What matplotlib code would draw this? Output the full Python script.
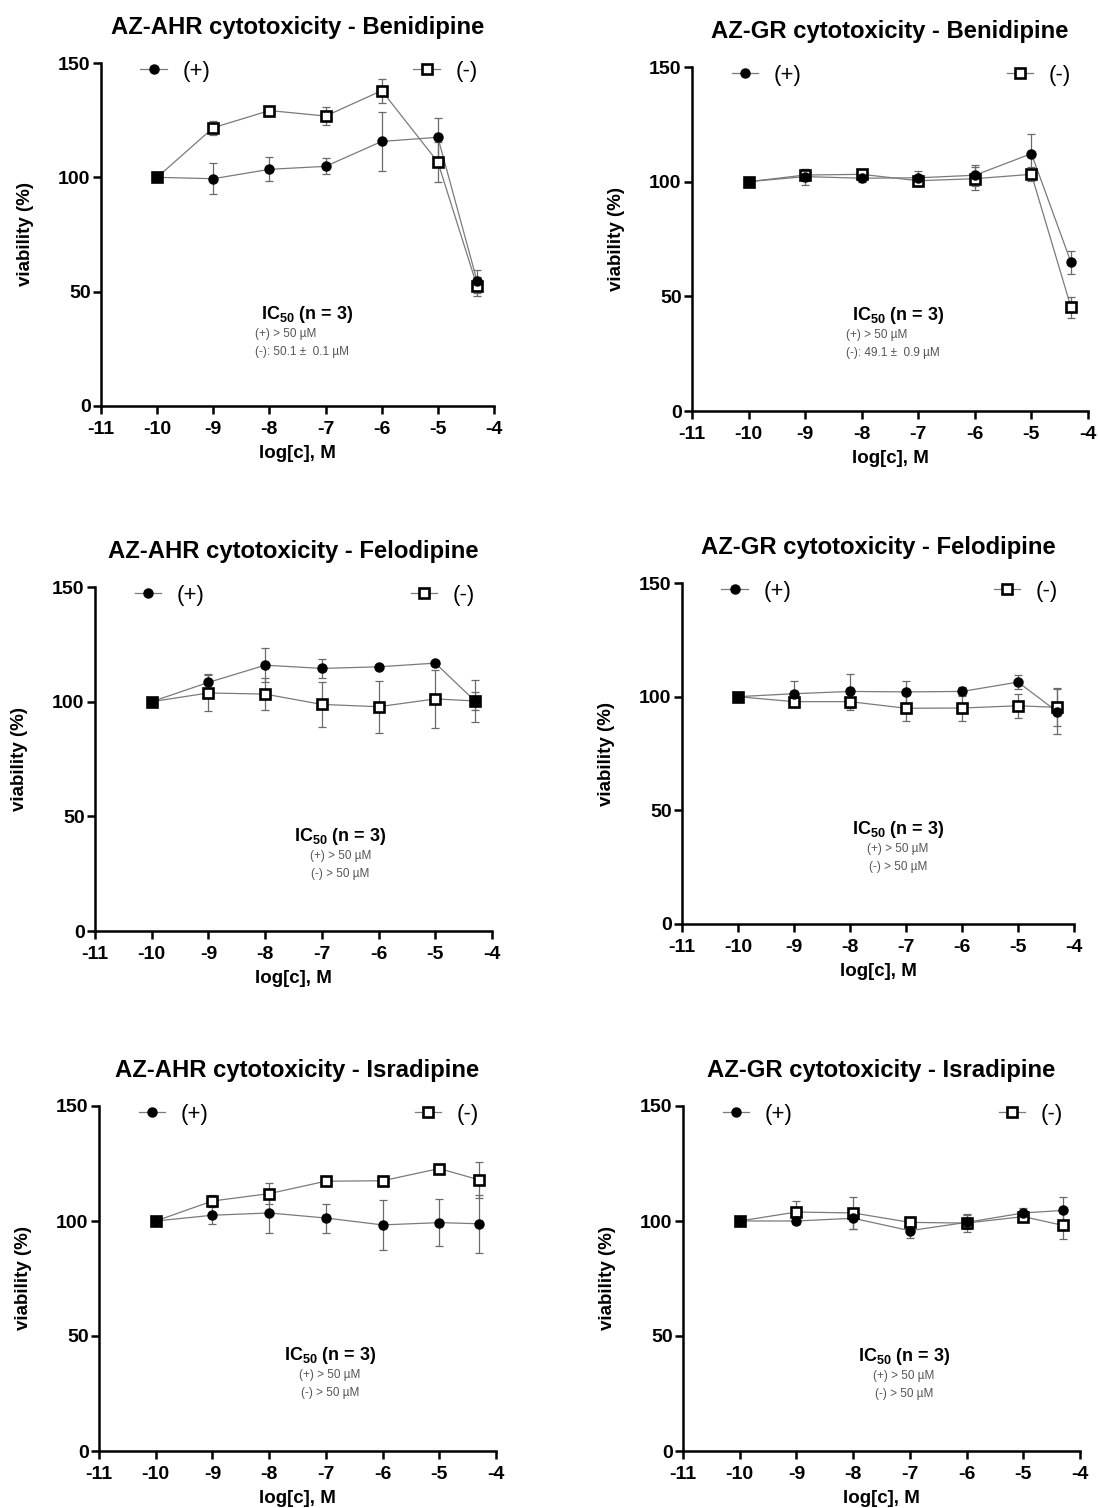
import matplotlib
matplotlib.use("Agg")
import matplotlib.pyplot as plt
from matplotlib.lines import Line2D

plt.rcParams['font.family'] = ['Liberation Sans', 'DejaVu Sans']
plt.rcParams['mathtext.fontset'] = 'custom'
plt.rcParams['mathtext.rm'] = 'Liberation Sans'
plt.rcParams['mathtext.bf'] = 'Liberation Sans:bold'
plt.rcParams['axes.unicode_minus'] = False

# ---------------- data ----------------
log_conc = [-10, -9, -8, -7, -6, -5, -4.3]
x_ticks = [-11, -10, -9, -8, -7, -6, -5, -4]
y_ticks = [0, 50, 100, 150]

titles = ["AZ-AHR cytotoxicity - Benidipine", "AZ-GR cytotoxicity - Benidipine",
          "AZ-AHR cytotoxicity - Felodipine", "AZ-GR cytotoxicity - Felodipine",
          "AZ-AHR cytotoxicity - Isradipine", "AZ-GR cytotoxicity - Isradipine"]

# (+) / (-) series means and SD
ahr_beni_plus = [100, 99.4, 103.5, 104.8, 115.7, 117.5, 54.5]
ahr_beni_plus_err = [0, 6.7, 5.3, 3.5, 12.8, 8.5, 5.0]
ahr_beni_minus = [100, 121.7, 129.2, 126.8, 137.9, 106.7, 52.3]
ahr_beni_minus_err = [0, 3.0, 1.5, 3.8, 5.2, 8.9, 4.0]

gr_beni_plus = [100, 102.2, 101.5, 101.7, 102.8, 112.2, 64.8]
gr_beni_plus_err = [0, 3.5, 1.5, 3.0, 4.5, 8.8, 5.0]
gr_beni_minus = [100, 102.9, 103.2, 100.4, 101.3, 103.2, 45.2]
gr_beni_minus_err = [0, 2.5, 1.0, 2.5, 5.0, 3.0, 4.5]

ahr_felo_plus = [100, 108.4, 115.9, 114.5, 115.2, 116.8, 100.3]
ahr_felo_plus_err = [0, 3.8, 7.4, 4.2, 0.5, 1.0, 4.0]
ahr_felo_minus = [100, 103.8, 103.3, 98.8, 97.8, 101.2, 100.3]
ahr_felo_minus_err = [0, 7.8, 7.0, 9.8, 11.4, 12.8, 9.0]

gr_felo_plus = [100, 101.3, 102.3, 102.1, 102.3, 106.4, 93.4]
gr_felo_plus_err = [0, 5.7, 7.5, 4.9, 2.0, 3.0, 10.0]
gr_felo_minus = [100, 97.8, 97.8, 94.9, 95.0, 96.0, 95.3]
gr_felo_minus_err = [0, 2.0, 3.5, 5.8, 5.6, 5.3, 8.4]

ahr_isra_plus = [100, 102.5, 103.5, 101.3, 98.3, 99.3, 98.8]
ahr_isra_plus_err = [0, 4.0, 8.8, 6.3, 11.0, 10.3, 12.5]
ahr_isra_minus = [100, 108.7, 111.9, 117.3, 117.5, 122.8, 117.9]
ahr_isra_minus_err = [0, 2.6, 4.5, 0.8, 0.8, 1.0, 7.8]

gr_isra_plus = [100, 100.0, 101.2, 95.8, 99.4, 103.5, 104.6]
gr_isra_plus_err = [0, 1.5, 4.5, 3.2, 3.0, 2.0, 5.9]
gr_isra_minus = [100, 103.9, 103.5, 99.4, 99.1, 101.9, 98.1]
gr_isra_minus_err = [0, 4.9, 7.0, 1.0, 3.9, 1.5, 6.0]

ic50_plus_text = ["(+) > 50 µM", "(+) > 50 µM", "(+) > 50 µM",
                  "(+) > 50 µM", "(+) > 50 µM", "(+) > 50 µM"]
ic50_minus_text = ["(-): 50.1 ±  0.1 µM", "(-): 49.1 ±  0.9 µM", "(-) > 50 µM",
                   "(-) > 50 µM", "(-) > 50 µM", "(-) > 50 µM"]

series = [
    (ahr_beni_plus, ahr_beni_plus_err, ahr_beni_minus, ahr_beni_minus_err),
    (gr_beni_plus, gr_beni_plus_err, gr_beni_minus, gr_beni_minus_err),
    (ahr_felo_plus, ahr_felo_plus_err, ahr_felo_minus, ahr_felo_minus_err),
    (gr_felo_plus, gr_felo_plus_err, gr_felo_minus, gr_felo_minus_err),
    (ahr_isra_plus, ahr_isra_plus_err, ahr_isra_minus, ahr_isra_minus_err),
    (gr_isra_plus, gr_isra_plus_err, gr_isra_minus, gr_isra_minus_err),
]

# ---------------- layout (pixels: left, right, top, bottom) ----------------
W, H = 1098, 1508
boxes = [(101, 494, 63, 406), (692, 1088, 67, 411),
         (95, 492, 587, 931), (682, 1074, 583, 924),
         (99, 496, 1106, 1451), (683, 1080, 1106, 1451)]
# IC50 annotation: (x center, y of header, left-aligned?, x left)
ann = [(-7.33, 40.0, True, -8.25), (-7.35, 41.7, True, -8.28),
       (-6.67, 41.3, False, None), (-7.14, 41.5, False, None),
       (-6.93, 41.7, False, None), (-7.1, 41.3, False, None)]

fig = plt.figure(figsize=(W / 100, H / 100), dpi=100)

line_col = '#7a7a7a'
err_col = '#6a6a6a'
sub_col = '#555555'

for i in range(6):
    l, r, t, b = boxes[i]
    ax = fig.add_axes([l / W, 1 - b / H, (r - l) / W, (b - t) / H])
    yp, ep, ym, em = series[i]

    ax.errorbar(log_conc, ym, yerr=em, fmt='none', ecolor=err_col,
                elinewidth=0.9, capsize=3, capthick=0.9, zorder=2)
    ax.errorbar(log_conc, yp, yerr=ep, fmt='none', ecolor=err_col,
                elinewidth=0.9, capsize=3, capthick=0.9, zorder=2)
    ax.plot(log_conc, ym, '-', color=line_col, lw=0.9, zorder=3)
    ax.plot(log_conc, yp, '-', color=line_col, lw=0.9, zorder=3)
    ax.plot(log_conc, ym, 's', ms=7.5, mfc='white', mec='black', mew=1.9,
            ls='none', zorder=4)
    ax.plot(log_conc, yp, 'o', ms=6.5, mfc='black', mec='black',
            ls='none', zorder=5)

    ax.set_xlim(-11, -4)
    ax.set_ylim(0, 150)
    ax.set_xticks(x_ticks)
    ax.set_yticks(y_ticks)
    ax.spines['top'].set_visible(False)
    ax.spines['right'].set_visible(False)
    for s in ('left', 'bottom'):
        ax.spines[s].set_linewidth(1.8)
    ax.tick_params(direction='out', length=5.5, width=1.8, labelsize=14)
    ax.tick_params(axis='x', pad=5)
    ax.tick_params(axis='y', pad=2)
    for lab in ax.get_xticklabels() + ax.get_yticklabels():
        lab.set_fontweight('bold')
    for art in ax.lines:
        art.set_clip_on(False)

    ax.set_title(titles[i], fontsize=17.2, fontweight='bold', pad=21)
    ax.set_xlabel('log[c], M', fontsize=13.5, fontweight='bold', labelpad=5)
    ax.set_ylabel('viability (%)', fontsize=13.5, fontweight='bold', labelpad=17)

    # legends
    hp = Line2D([], [], color=line_col, lw=0.9, marker='o', ms=6.5,
                mfc='black', mec='black')
    hm = Line2D([], [], color=line_col, lw=0.9, marker='s', ms=7.5,
                mfc='white', mec='black', mew=1.9)
    leg1 = ax.legend([hp], ['(+)'], loc='center left', frameon=False,
                     bbox_to_anchor=(0.10, 0.975), borderaxespad=0, borderpad=0,
                     handlelength=1.2, handletextpad=0.7, fontsize=16,
                     numpoints=1)
    ax.add_artist(leg1)
    ax.legend([hm], ['(-)'], loc='center left', frameon=False,
              bbox_to_anchor=(0.795, 0.975), borderaxespad=0, borderpad=0,
              handlelength=1.2, handletextpad=0.7, fontsize=16,
              numpoints=1)

    xc, yh, left_al, xl = ann[i]
    ax.text(xc, yh, r'IC$_{\mathbf{50}}$ (n = 3)', fontsize=13, fontweight='bold',
            ha='center', va='center')
    if left_al:
        ax.text(xl, yh - 8.5, ic50_plus_text[i], fontsize=8.5, color=sub_col,
                ha='left', va='center')
        ax.text(xl, yh - 16.3, ic50_minus_text[i], fontsize=8.5, color=sub_col,
                ha='left', va='center')
    else:
        ax.text(xc, yh - 8.5, ic50_plus_text[i], fontsize=8.5, color=sub_col,
                ha='center', va='center')
        ax.text(xc, yh - 16.3, ic50_minus_text[i], fontsize=8.5, color=sub_col,
                ha='center', va='center')

fig.savefig('out.png', dpi=100, facecolor='white')
